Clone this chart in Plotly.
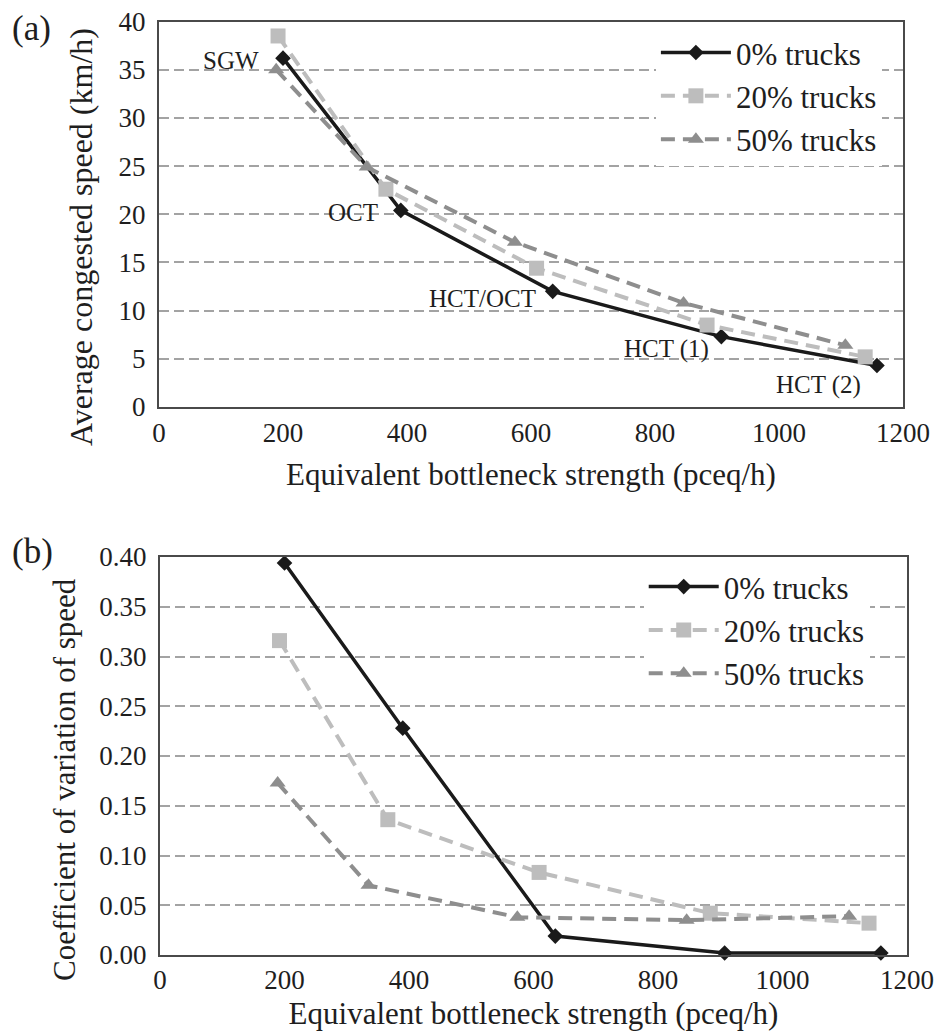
import plotly.graph_objects as go

# Equivalent bottleneck strength (pceq/h) per truck share
strength_0 = [200, 390, 635, 907, 1158]
strength_20 = [192, 366, 609, 884, 1139]
strength_50 = [189, 335, 574, 846, 1107]

# (a) Average congested speed (km/h)
speed_0 = [36.2, 20.4, 12.0, 7.3, 4.3]
speed_20 = [38.5, 22.6, 14.4, 8.5, 5.2]
speed_50 = [35.0, 24.9, 17.1, 10.8, 6.4]

# (b) Coefficient of variation of speed
cv_0 = [0.394, 0.228, 0.019, 0.002, 0.002]
cv_20 = [0.316, 0.136, 0.083, 0.042, 0.032]
cv_50 = [0.173, 0.070, 0.038, 0.035, 0.039]

series_names = ["0% trucks", "20% trucks", "50% trucks"]
site_labels = ["SGW", "OCT", "HCT/OCT", "HCT (1)", "HCT (2)"]
x_ticks = [0, 200, 400, 600, 800, 1000, 1200]

SERIF = "Liberation Serif"
TEXT = "#1e1e1e"

styles = [
    dict(line=dict(color="#1a1a1a", width=3.5),
         marker=dict(symbol="diamond", size=12, color="#1a1a1a")),
    dict(line=dict(color="#bdbdbd", width=4, dash="14px,8px"),
         marker=dict(symbol="square", size=15, color="#bdbdbd")),
    dict(line=dict(color="#8e8e8e", width=4, dash="14px,8px"),
         marker=dict(symbol="triangle-up", size=14, color="#8e8e8e")),
]

fig = go.Figure()

xs = [strength_0, strength_20, strength_50]
for name, x, y, st in zip(series_names, xs, [speed_0, speed_20, speed_50], styles):
    fig.add_trace(go.Scatter(x=x, y=y, name=name, mode="lines+markers",
                             xaxis="x", yaxis="y", legend="legend",
                             cliponaxis=False, **st))
for name, x, y, st in zip(series_names, xs, [cv_0, cv_20, cv_50], styles):
    fig.add_trace(go.Scatter(x=x, y=y, name=name, mode="lines+markers",
                             xaxis="x2", yaxis="y2", legend="legend2",
                             cliponaxis=False, **st))

# Site labels next to the 0% trucks points (pixel offsets)
label_offsets = [(-52, -2), (-48, -2), (-70, -7), (-55, -12), (-58, -19)]
for lab, x, y, (dx, dy) in zip(site_labels, strength_0, speed_0, label_offsets):
    fig.add_annotation(x=x, y=y, xref="x", yref="y", text=lab, showarrow=False,
                       xshift=dx, yshift=dy,
                       font=dict(family=SERIF, size=25, color=TEXT))

# Panel letters
for lab, ypos in [("(a)", 0.993), ("(b)", 0.488)]:
    fig.add_annotation(x=0.011, y=ypos, xref="paper", yref="paper", text=lab,
                       showarrow=False, xanchor="left", yanchor="top",
                       font=dict(family=SERIF, size=35, color=TEXT))

# Vertical axis titles
for txt, xpos, ypos, size in [("Average congested speed (km/h)", 0.0864, 0.771, 32),
                              ("Coefficient of variation of speed", 0.0694, 0.2464, 31)]:
    fig.add_annotation(x=xpos, y=ypos, xref="paper", yref="paper", text=txt,
                       textangle=-90, showarrow=False, xanchor="center",
                       yanchor="middle",
                       font=dict(family=SERIF, size=size, color=TEXT))

axis_common = dict(showline=True, linecolor="#4a4a4a", linewidth=2, mirror=True,
                   ticks="", zeroline=False, automargin=False,
                   tickfont=dict(family=SERIF, size=27, color=TEXT))
xcommon = dict(axis_common, range=[0, 1200], tickvals=x_ticks, showgrid=False)
ycommon = dict(axis_common, showgrid=True, gridcolor="#a3a3a3", gridwidth=1.5,
               griddash="10px,5px", ticklabelstandoff=6)
title_font = dict(family=SERIF, size=31, color=TEXT)

fig.update_layout(
    width=937, height=1035,
    margin=dict(l=0, r=0, t=0, b=0),
    font=dict(family=SERIF, color=TEXT),
    paper_bgcolor="white", plot_bgcolor="white",
    xaxis=dict(xcommon, domain=[159 / 937, 903 / 937], anchor="y",
               ticklabelstandoff=1,
               title=dict(text="Equivalent bottleneck strength (pceq/h)",
                          font=title_font, standoff=16)),
    yaxis=dict(ycommon, domain=[0.6068, 0.9792], anchor="x", range=[0, 40],
               tickvals=[0, 5, 10, 15, 20, 25, 30, 35, 40]),
    xaxis2=dict(xcommon, domain=[160 / 937, 907 / 937], anchor="y2",
                ticklabelstandoff=0,
                title=dict(text="Equivalent bottleneck strength (pceq/h)",
                           font=title_font, standoff=8)),
    yaxis2=dict(ycommon, domain=[0.0773, 0.4618], anchor="x2", range=[0, 0.4],
                tickvals=[0, 0.05, 0.1, 0.15, 0.2, 0.25, 0.3, 0.35, 0.4],
                tickformat=".2f"),
    legend=dict(x=0.70, y=0.975, xanchor="left", yanchor="top",
                bgcolor="white", borderwidth=0, itemwidth=70,
                font=dict(family=SERIF, size=31, color=TEXT)),
    legend2=dict(x=0.687, y=0.459, xanchor="left", yanchor="top",
                 bgcolor="white", borderwidth=0, itemwidth=70,
                 font=dict(family=SERIF, size=31, color=TEXT)),
)

fig.write_html("out.html")
